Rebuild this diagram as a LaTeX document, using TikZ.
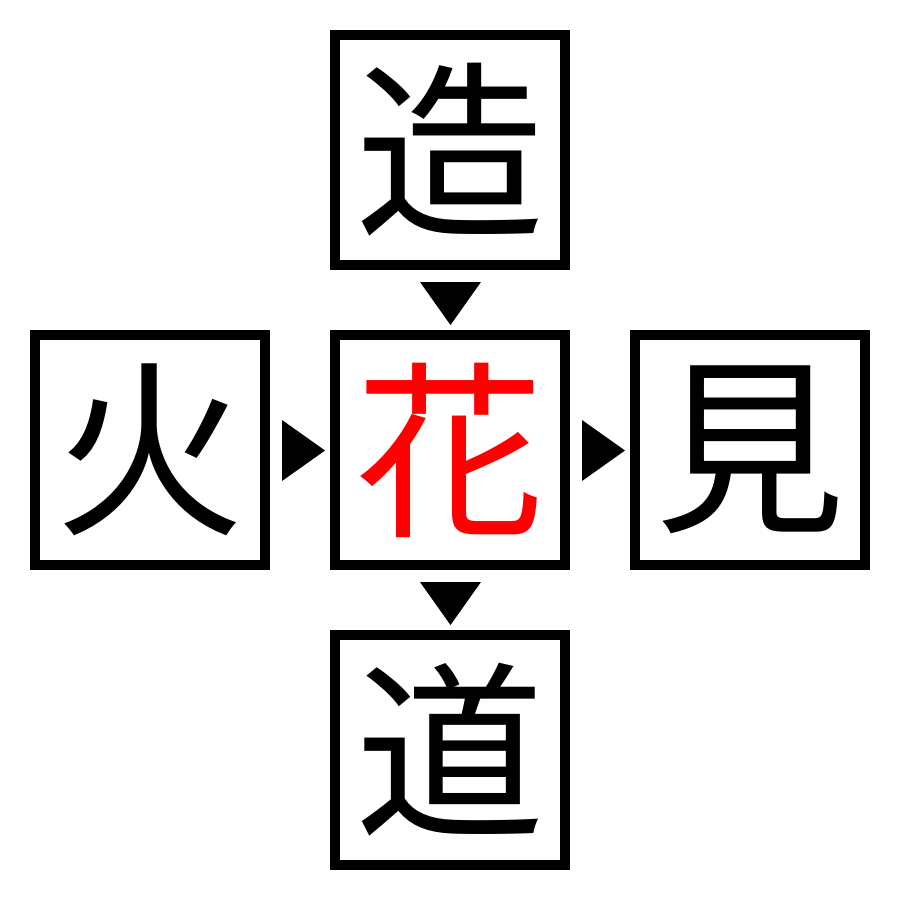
\documentclass[tikz,border=0pt]{standalone}
\usepackage{fontspec}
\newfontfamily\jpfont{Noto Sans CJK JP}
\tikzset{
  kanji/.style={draw=black, line width=0.2cm, minimum size=4.6cm, inner sep=0pt,
    font=\jpfont\fontsize{108}{108}\selectfont},
  marker/.style={fill=black}
}
\begin{document}
\begin{tikzpicture}[x=0.02cm, y=-0.02cm]
			\useasboundingbox (0,0) rectangle (900,900);
			%Boxes
			\node[kanji] (zou) at (450,150) {造};
			\node[kanji] (hi) at (150,450) {火};
			\node[kanji, text=red] (hana) at (450,450) {花};
			\node[kanji] (mi) at (750,450) {見};
			\node[kanji] (michi) at (450,750) {道};
			%Markers
			\fill[marker] (420,282) -- (481,282) -- (450.5,325) -- cycle;
			\fill[marker] (420,582) -- (481,582) -- (450.5,625) -- cycle;
			\fill[marker] (282,420) -- (282,481) -- (325,450.5) -- cycle;
			\fill[marker] (582,420) -- (582,481) -- (625,450.5) -- cycle;
\end{tikzpicture}
\end{document}
